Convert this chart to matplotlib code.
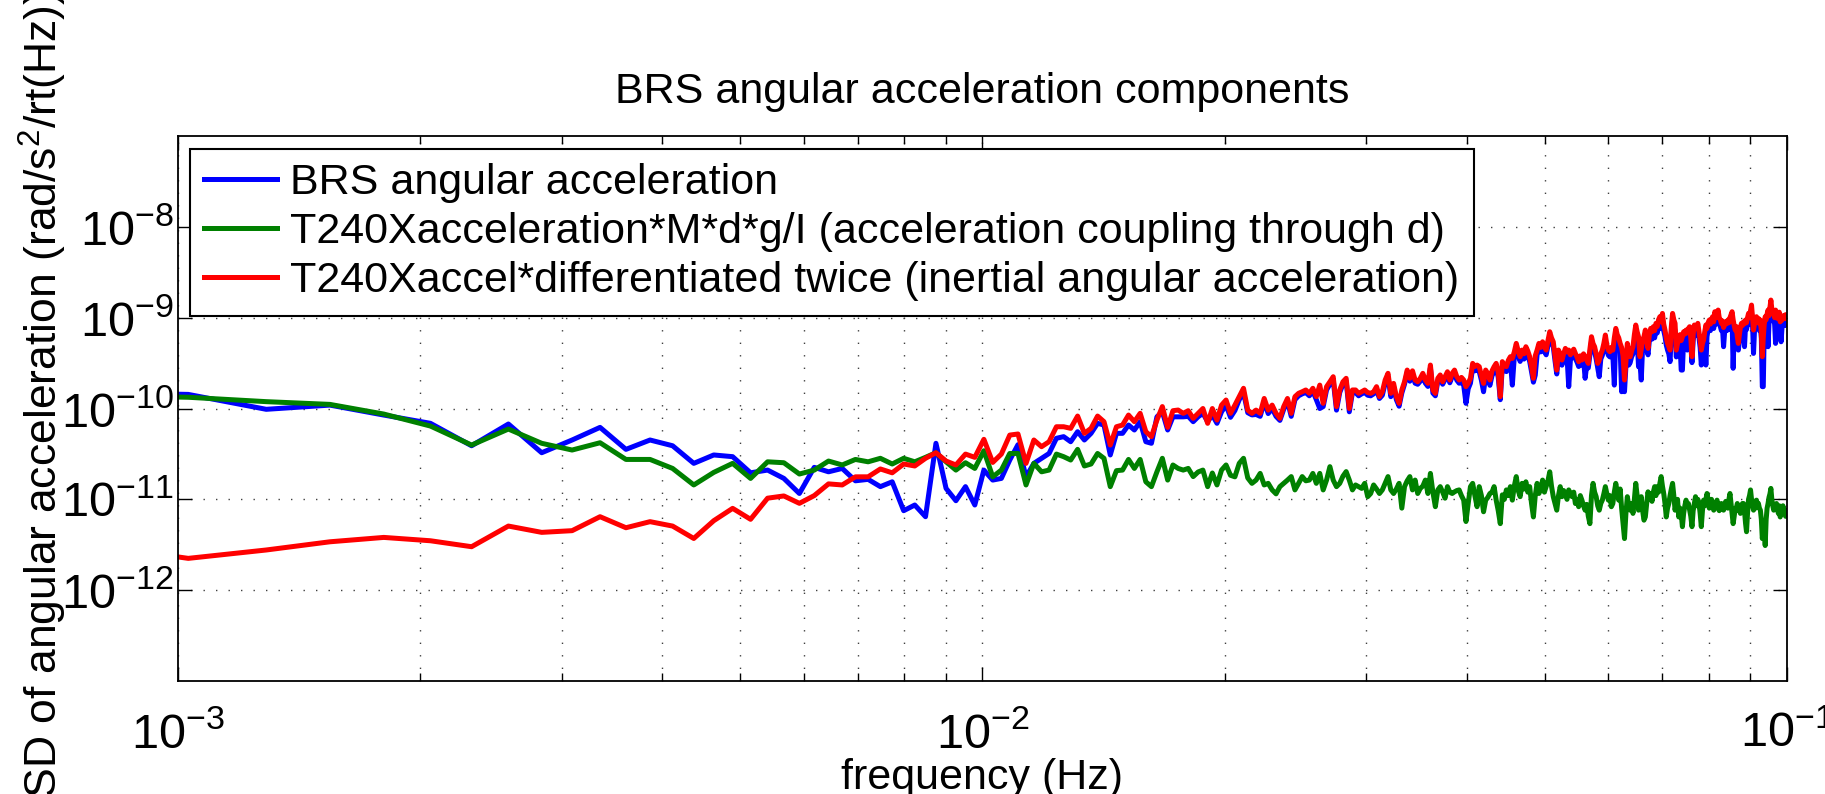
import numpy as np
import matplotlib
matplotlib.use("Agg")
import matplotlib.pyplot as plt
from matplotlib.ticker import NullLocator, LogLocator

# ---------------- data (ASD values in units of 1e-12 rad/s^2/rt(Hz)) ----------------
df = 2.575e-4          # frequency bin spacing (Hz)
n_start = 3            # first bin index
unit = 1e-12

labels = ["BRS angular acceleration",
          "T240Xacceleration*M*d*g/I (acceleration coupling through d)",
          "T240Xaccel*differentiated twice (inertial angular acceleration)"]

brs_accel = [
    150, 143, 98, 109, 84.7, 68.7, 38.9, 67.5, 32.6, 45,
    62, 35.5, 45, 38.9, 24.9, 30.8, 29.5, 19.6, 21, 17,
    11.6, 22.5, 20.1, 21.9, 16, 16.6, 13.8, 15.6, 7.5, 8.66,
    6.44, 41.4, 13.2, 9.66, 13.8, 8.66, 21, 16.3, 17, 27.1,
    40, 17.7, 24.9, 28.3, 32, 47, 49, 43.1, 55.6, 45,
    53.3, 68.7, 65.8, 30.8, 53.3, 53.3, 65.8, 58, 71.6, 43.1,
    41.4, 81, 92, 58, 81, 81, 81, 82, 71.6, 81,
    88.5, 71.6, 85, 68.7, 92, 109, 80, 95, 125, 150,
    90, 85, 86, 82, 118, 88, 100, 82, 74, 98,
    120, 82, 125, 138, 145, 150, 138, 155, 125, 100,
    105, 160, 185, 205, 96, 150, 185, 200, 92, 150,
    150, 138, 145, 150, 140, 138, 145, 160, 129, 140,
    190, 225, 135, 175, 125, 106, 148, 185, 250, 200,
    240, 190, 185, 200, 225, 190, 175, 280, 148, 138,
    200, 215, 185, 208, 235, 192, 225, 245, 205, 190,
    195, 180, 114, 165, 190, 280, 260, 270, 255, 205,
    153, 230, 210, 180, 230, 255, 280, 220, 125, 290,
    265, 255, 300, 330, 181, 370, 460, 380, 330, 390,
    350, 420, 380, 330, 255, 195, 233, 390, 460, 420,
    480, 425, 390, 495, 620, 530, 480, 335, 240, 390,
    350, 300, 350, 400, 370, 174, 340, 370, 395, 355,
    325, 290, 335, 300, 350, 215, 300, 280, 395, 545,
    460, 420, 350, 280, 224, 350, 385, 455, 565, 440,
    385, 370, 410, 380, 181, 670, 570, 520, 450, 153,
    330, 153, 290, 450, 301, 320, 370, 400, 560, 700,
    600, 289, 320, 206, 480, 520, 440, 470, 390, 560,
    640, 580, 680, 600, 740, 680, 800, 880, 760, 950,
    720, 620, 500, 440, 400, 328, 680, 950, 800, 720,
    370, 430, 470, 540, 265, 265, 580, 560, 620, 440,
    640, 680, 500, 320, 560, 700, 640, 680, 740, 600,
    470, 301, 440, 480, 580, 301, 620, 740, 800, 720,
    800, 870, 760, 980, 850, 920, 1020, 850, 800, 720,
    780, 479, 700, 760, 720, 800, 740, 850, 920, 980,
    277, 680, 620, 680, 520, 440, 550, 660, 730, 690,
    760, 479, 800, 740, 850, 940, 850, 1020, 1150, 850,
    404, 720, 800, 870, 760, 830, 720, 800, 590, 174,
    174, 720, 870, 800, 930, 479, 880, 1050, 1200, 1000,
    950, 920, 850, 521, 930, 830, 860, 960, 760, 543,
    780, 880, 840, 820, 900, 840,
]

coupling_d = [
    140, 133, 119, 111, 86.9, 64.1, 39.6, 59.4, 41.4, 34.9,
    42, 27.5, 27.5, 21.9, 14.4, 19.8, 24.9, 17, 25.9,
    25.3, 19, 21, 26.4, 23.9, 27.5, 25.9, 28.3, 24.5, 28.3,
    25.9, 29, 32.6, 25.9, 21, 25.3, 21.9, 34.3, 17.7, 21, 32,
    32, 14.4, 24.9, 20.1, 21, 31.5, 29.5, 27.1, 35.5, 23.3,
    24.5, 32, 28.3, 13.8, 20.7, 21, 27.5, 21.9, 27.5, 15.6,
    13.8, 20.1, 28.3, 16.3, 23.9, 21.9, 21, 21.9, 17.8, 20,
    21, 13.8, 19.5, 14.4, 21, 23.9, 18.4, 17.7, 24.9, 28.3, 17.2,
    15, 16.3, 19.3, 14.4, 15, 12.7, 11.5, 13.8, 15, 16.3,
    17.8, 12.7, 15, 17.8, 16, 16.3, 19.3, 15, 19.3, 12.7,
    16.3, 22.9, 16.3, 13.8, 15, 18, 20.2, 16.3, 12.7, 14.4,
    13.8, 13.2, 15, 10.7, 11.6, 14.4, 13, 11.6, 12.7, 15,
    17.8, 12.7, 11.6, 13, 15, 8.0, 13.8, 16, 17.8, 12.7,
    16.3, 11.6, 13.2, 14, 16.3, 11.6, 19.3, 12, 8.3, 12.7,
    13.8, 12, 10.3, 13.8, 12, 11.6, 12.1, 12.5, 12.7,
    11, 9.8, 5.7, 9, 13.8, 15, 11, 8.3, 13.8, 11,
    7.3, 9.8, 10.5, 11.6, 12, 13.8, 9.8, 7.5, 5.4, 11.2,
    10, 12.7, 11, 13.8, 9.8, 14, 17.8, 12.5, 10.7, 15,
    13, 15.6, 12, 13.8, 9, 6.4, 11, 15, 11.6, 13,
    16.3, 12, 13.8, 16, 20.1, 14, 10.7, 9, 7.6, 11,
    13.8, 10.7, 12.5, 11.2, 10, 12.7, 11.5, 10.7, 12, 9,
    10, 8.3, 11, 9.8, 8.5, 7.6, 8.8, 6.5, 5.4, 11,
    15, 12, 10.7, 8.5, 7.6, 9, 9.8, 11.5, 13.8, 11.5,
    9.8, 11, 8.3, 9, 12, 15, 12, 9.8,
    13, 8, 5.4, 3.7, 7, 10.7, 8.5, 7.6, 9, 7.0,
    10, 15, 11, 7.6, 9.5, 10.7, 7.5, 5.9, 6.4, 9,
    12.1, 10, 11.6, 9.5, 12, 13.8, 11, 13.8, 12, 15,
    17.8, 14, 11.6, 9, 6.4, 8, 9, 11, 13, 15,
    11, 7.6, 9, 10, 6.4, 8, 7, 5.0, 7, 8.5,
    9.8, 8.5, 9, 7.6, 6.5, 5.0, 7.5, 9, 10.7, 8.5,
    10, 9, 7, 5.0, 7.5, 9.8, 8.5, 10, 11.6, 10,
    8, 9, 10, 8.5, 7.6, 8.5, 9, 9.8, 8, 7.5,
    8.3, 9, 8, 7.6, 8.5, 9.5, 9, 8, 10, 11.6,
    9, 7, 5.4, 6.5, 8, 7.6, 9, 7.5, 8.3, 7,
    8, 9, 9, 7.5, 5.5, 4.4, 7, 10, 11, 12.7,
    10, 8.5, 7.6, 9, 8, 9.8, 8.5, 9, 8, 7.6,
    6, 3.7, 4.5, 5, 3.1, 6, 8, 9, 10.5, 11.5,
    13.2, 10, 8.5, 7.6, 8.5, 7.8, 9, 8, 7, 8.5,
    6.4, 7, 7.5, 8.5, 7.8, 7, 6.5, 7.5,
]

inertial = [
    3.2, 2.24, 2.77, 3.41, 3.81, 3.5, 3.01, 5.08, 4.33, 4.52,
    6.44, 4.87, 5.68, 5.08, 3.71, 5.82, 7.96, 6.03, 10.3, 10.9,
    9.04, 11.0, 14.8, 14.4, 17.7, 17.7, 21.6, 19.6, 24.5, 23.3,
    28.3, 32.6, 26.4, 23.9, 31.5, 29.0, 45.8, 25.5, 31.5, 51,
    52.4, 24.9, 45, 38, 43.1, 63, 63, 60.5, 82.6, 53.3,
    60.5, 82.6, 71.6, 39.6, 63, 65.8, 84.7, 71.6, 88.5, 55.6,
    49, 74.6, 105, 62, 94.6, 96.2, 88.5, 94.6, 77.9, 88.5,
    100, 68.7, 100, 74.6, 109, 124, 88.5, 109, 135, 167,
    96, 88.5, 96, 88.5, 129, 96, 109, 88.5, 78, 105,
    129, 88.5, 135, 147, 153, 160, 147, 167, 135, 181,
    114, 174, 197, 224, 105, 160, 197, 215, 100, 160,
    160, 147, 153, 160, 150, 147, 153, 174, 135, 153,
    206, 244, 147, 189, 135, 114, 160, 197, 265, 215,
    260, 206, 197, 215, 244, 206, 189, 301, 160, 147,
    215, 234, 197, 224, 254, 206, 244, 265, 224, 206,
    220, 206, 174, 190, 215, 314, 290, 301, 289, 230,
    189, 265, 240, 206, 260, 289, 314, 250, 135, 328,
    300, 289, 340, 372, 356, 420, 521, 430, 372, 440,
    400, 479, 430, 372, 290, 215, 380, 440, 521, 470,
    543, 480, 440, 560, 700, 600, 543, 380, 265, 440,
    400, 342, 400, 459, 420, 440, 390, 422, 450, 404,
    370, 328, 380, 342, 400, 372, 340, 314, 450, 617,
    520, 479, 400, 314, 340, 400, 440, 520, 644, 500,
    440, 422, 470, 440, 600, 762, 650, 600, 520, 470,
    380, 206, 330, 521, 420, 372, 430, 479, 650, 830,
    700, 617, 372, 450, 567, 620, 731, 560, 459, 650,
    762, 700, 796, 720, 866, 800, 950, 1025, 900, 1114,
    850, 731, 600, 521, 480, 440, 800, 1114, 950, 866,
    440, 520, 567, 650, 560, 617, 700, 660, 731, 680,
    760, 796, 600, 372, 650, 830, 760, 800, 866, 700,
    560, 440, 520, 567, 700, 830, 760, 880, 942, 850,
    960, 1025, 900, 1163, 1000, 1100, 1213, 1000, 950, 866,
    920, 780, 830, 900, 860, 942, 880, 1000, 1080, 1163,
    950, 820, 731, 800, 620, 521, 650, 780, 866, 820,
    900, 860, 942, 880, 1000, 1114, 1000, 1200, 1377, 1000,
    731, 850, 950, 1025, 900, 980, 860, 942, 700, 372,
    600, 850, 1025, 950, 1100, 1213, 1050, 1300, 1563, 1250,
    1150, 1114, 1000, 1213, 1100, 980, 1025, 1150, 900, 1000,
    942, 1050, 1000, 980, 1080, 1000,
]

yticks = [1e-12, 1e-11, 1e-10, 1e-9, 1e-8]

# ---------------- styling ----------------
plt.rcParams['font.family'] = ['Liberation Sans', 'DejaVu Sans']
plt.rcParams['mathtext.fontset'] = 'custom'
plt.rcParams['mathtext.rm'] = 'Liberation Sans'
plt.rcParams['mathtext.it'] = 'Liberation Sans:italic'
plt.rcParams['mathtext.bf'] = 'Liberation Sans:bold'
FS = 31        # title, xlabel, legend
FS_TICK = 35   # tick labels
FS_YLAB = 32   # y label

fig = plt.figure(figsize=(18.25, 7.94), dpi=100)
ax = fig.add_axes([0.0975, 0.1423, 0.8816, 0.6864])

series = [(brs_accel, (0, 0, 1)), (coupling_d, (0, 0.5, 0)), (inertial, (1, 0, 0))]
for (vals, col), lab in zip(series, labels):
    v = np.asarray(vals, dtype=float) * unit
    f = df * (n_start + np.arange(len(v)))
    ax.loglog(f, v, color=col, lw=3.6, label=lab, solid_joinstyle='round')

ax.set_xlim(1e-3, 1e-1)
ax.set_ylim(1e-13, 1e-7)
ax.set_yticks(yticks)
ax.yaxis.set_minor_locator(NullLocator())
ax.xaxis.set_minor_locator(LogLocator(base=10, subs=np.arange(2, 10)))

ax.tick_params(which='both', direction='in', top=True, right=True, labelsize=FS_TICK)
ax.tick_params(which='major', length=10, width=1.0)
ax.tick_params(which='minor', length=6, width=1.0)
ax.tick_params(axis='x', which='major', pad=22)
ax.tick_params(axis='y', which='major', pad=3)
for sp in ax.spines.values():
    sp.set_linewidth(1.3)

grid_kw = dict(color=(0.25, 0.25, 0.25), linestyle=(0, (1, 8)), linewidth=1.0)
ax.grid(True, which='major', axis='both', **grid_kw)
ax.grid(True, which='minor', axis='x', **grid_kw)

ax.set_title("BRS angular acceleration components", fontsize=FS, pad=24)
ax.set_xlabel("frequency (Hz)", fontsize=FS)
ax.xaxis.set_label_coords(0.5, -0.141)
ax.set_ylabel("ASD of angular acceleration (rad/s$^2$/rt(Hz))", fontsize=FS_YLAB, va='center')
ax.yaxis.set_label_coords(-0.084, 0.5)

leg = ax.legend(loc='upper left', bbox_to_anchor=(0.0075, 0.976), borderaxespad=0,
                fontsize=FS, frameon=True, fancybox=False, framealpha=1,
                edgecolor='black', handlelength=1.7, handletextpad=0.3,
                labelspacing=0.21, borderpad=0.33)
leg.get_frame().set_linewidth(1.5)

fig.savefig("out.png", dpi=100, facecolor='white')
